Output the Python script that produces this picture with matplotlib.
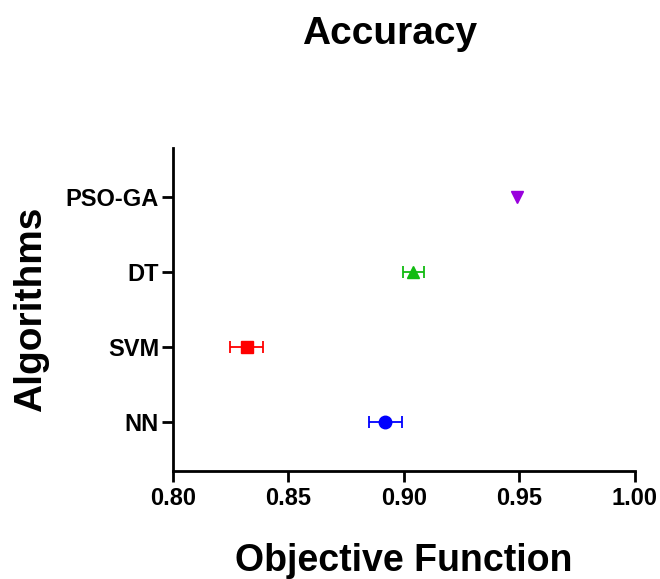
import matplotlib
matplotlib.use('Agg')
import matplotlib.pyplot as plt

plt.rcParams['font.family'] = ['Liberation Sans', 'DejaVu Sans']

algorithms = ['NN', 'SVM', 'DT', 'PSO-GA']
means = [0.892, 0.832, 0.904, 0.949]
errors = [0.007, 0.0072, 0.0045, 0.0]
colors = ['#0000ff', '#ff0000', '#11bb11', '#9900dd']
markers = ['o', 's', '^', 'v']

fig = plt.figure(figsize=(6.6, 5.79), dpi=100)
ax = fig.add_axes([0.262, 0.1865, 0.700, 0.5575])

for i, (m, e, c, mk) in enumerate(zip(means, errors, colors, markers)):
    ax.errorbar(m, i, xerr=e if e > 0 else None, fmt=mk, color=c, ms=9,
                capsize=4.5, elinewidth=1.3, capthick=1.3)

ax.set_xlim(0.80, 1.00)
ax.set_ylim(-0.65, 3.65)
ax.set_xticks([0.80, 0.85, 0.90, 0.95, 1.00])
ax.set_xticklabels(['0.80', '0.85', '0.90', '0.95', '1.00'])
ax.set_yticks(range(len(algorithms)))
ax.set_yticklabels(algorithms)

for s in ['top', 'right']:
    ax.spines[s].set_visible(False)
for s in ['left', 'bottom']:
    ax.spines[s].set_linewidth(2)
ax.tick_params(width=2, length=8, labelsize=17)
ax.tick_params(axis='y', pad=2)
for lbl in ax.get_xticklabels() + ax.get_yticklabels():
    lbl.set_fontweight('bold')

ax.set_xlabel('Objective Function', fontsize=27, fontweight='bold')
ax.xaxis.set_label_coords(0.5, -0.222)
ax.set_ylabel('Algorithms', fontsize=28, fontweight='bold')
ax.yaxis.set_label_coords(-0.268, 0.5)
fig.suptitle('Accuracy', fontsize=28, fontweight='bold', x=0.591, y=0.972)

fig.savefig('out.png', dpi=100)
